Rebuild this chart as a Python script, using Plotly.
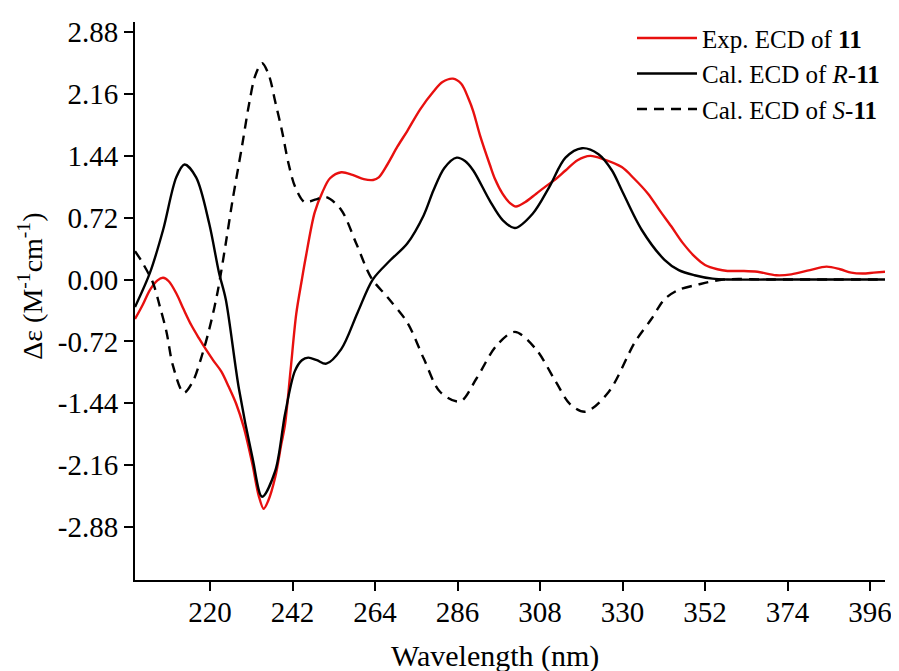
import plotly.graph_objects as go

# Experimental ECD of 11
exp_wl = [200, 202, 204, 206, 207.5, 209, 211, 213, 215, 217, 219, 221, 223, 225, 227, 229, 231.3, 233, 234.3,
          235.5, 237.4, 239, 240, 241.5, 243, 244.5, 245.5, 247.9, 250, 252, 255, 258, 261, 263.5, 265, 267.3,
          270, 272.6, 276, 279.6, 282, 284.8, 287, 289, 290.2, 292, 294.6, 296, 298, 300, 301.6, 304, 307,
          310, 312.2, 314.8, 318, 321.4, 325, 329.8, 333, 336.8, 340, 343, 346, 349.2, 352, 355.3, 358,
          362.4, 366, 371, 375, 380, 384.4, 388, 391, 394, 397, 400]
exp_de = [-0.46, -0.30, -0.12, -0.01, 0.02, -0.02, -0.16, -0.35, -0.53, -0.68, -0.82, -0.95, -1.07, -1.25, -1.45,
          -1.72, -2.15, -2.52, -2.67, -2.58, -2.30, -1.92, -1.69, -1.05, -0.40, 0.00, 0.25, 0.78, 1.02, 1.18,
          1.25, 1.22, 1.17, 1.16, 1.19, 1.34, 1.55, 1.73, 1.98, 2.19, 2.30, 2.34, 2.28, 2.10, 1.96, 1.68,
          1.34, 1.17, 1.00, 0.89, 0.85, 0.90, 1.00, 1.10, 1.17, 1.27, 1.39, 1.44, 1.40, 1.31, 1.18, 1.00,
          0.80, 0.62, 0.43, 0.27, 0.17, 0.12, 0.10, 0.10, 0.09, 0.05, 0.06, 0.11, 0.15, 0.12, 0.08, 0.07,
          0.08, 0.09]

# Calculated ECD of R-11
r_wl = [200, 204, 207.5, 211, 213.2, 216.3, 219.8, 222.4, 224.2, 227.7, 231.3, 233.9, 237.4, 240, 242.6,
        244.5, 246.2, 248.5, 251, 255, 259.4, 263.4, 268.2, 272.6, 277, 279.6, 282.5, 285.8, 288, 290.2,
        294.6, 298.1, 301.3, 306.1, 310.5, 314.8, 319.2, 323.6, 327.2, 329.8, 335.1, 341.2, 345, 349.2,
        354, 358, 370, 385, 400]
r_de = [-0.32, 0.08, 0.58, 1.19, 1.34, 1.19, 0.65, 0.08, -0.23, -1.27, -2.07, -2.53, -2.23, -1.57, -1.07,
        -0.94, -0.91, -0.94, -0.98, -0.81, -0.38, 0.00, 0.23, 0.42, 0.75, 1.04, 1.30, 1.42, 1.38, 1.27,
        0.92, 0.69, 0.60, 0.77, 1.08, 1.42, 1.53, 1.46, 1.27, 1.04, 0.58, 0.23, 0.11, 0.05,
        0.01, 0.00, 0.00, 0.00, 0.00]

# Calculated ECD of S-11
s_wl = [200, 201.8, 204.8, 206.6, 208.4, 210.1, 213, 215.4, 217.6, 219.8, 222, 224.2, 226, 228.6, 230.4,
        232.1, 233.9, 235.7, 237.4, 239.2, 241, 242.7, 245.3, 248, 251, 255, 259, 263, 267.4, 272.6, 277,
        281.4, 286.7, 291.1, 296.4, 301.3, 306.9, 312.2, 316, 320.1, 326.3, 333.3, 337.7, 341.2, 345,
        350, 357, 370, 385, 400]
s_de = [0.33, 0.21, -0.04, -0.31, -0.61, -1.00, -1.32, -1.19, -0.92, -0.58, -0.15, 0.42, 0.92, 1.57, 2.04,
        2.38, 2.52, 2.38, 2.07, 1.73, 1.34, 1.08, 0.90, 0.93, 0.96, 0.81, 0.42, 0.02, -0.21, -0.50, -0.92,
        -1.31, -1.42, -1.15, -0.77, -0.61, -0.81, -1.19, -1.45, -1.54, -1.31, -0.73, -0.46, -0.23, -0.12,
        -0.06, 0.00, 0.00, 0.00, 0.00]

x_ticks = [220, 242, 264, 286, 308, 330, 352, 374, 396]
y_ticks = [-2.88, -2.16, -1.44, -0.72, 0.00, 0.72, 1.44, 2.16, 2.88]
y_tick_text = ["-2.88", "-2.16", "-1.44", "-0.72", "0.00", "0.72", "1.44", "2.16", "2.88"]

FONT = "Liberation Serif"
SMOOTH = 0.9

fig = go.Figure()
fig.add_trace(go.Scatter(x=exp_wl, y=exp_de, mode="lines", name="Exp. ECD of <b>11</b>",
                         line=dict(color="#e8100f", width=2.4, shape="spline", smoothing=SMOOTH)))
fig.add_trace(go.Scatter(x=r_wl, y=r_de, mode="lines", name="Cal. ECD of <i>R</i>-<b>11</b>",
                         line=dict(color="#000000", width=2.4, shape="spline", smoothing=SMOOTH)))
fig.add_trace(go.Scatter(x=s_wl, y=s_de, mode="lines", name="Cal. ECD of <i>S</i>-<b>11</b>",
                         line=dict(color="#000000", width=2.4, dash="10px,7px", shape="spline",
                                   smoothing=SMOOTH)))

# page body adds an 8px offset; figure sized so the plot area lands where the reference has it
fig.update_layout(
    width=891, height=663,
    margin=dict(l=127, r=8, t=7, b=91),
    paper_bgcolor="white", plot_bgcolor="white",
    font=dict(family=FONT, size=26, color="black"),
    legend=dict(x=1, xanchor="right", y=1.012, yanchor="top", bgcolor="rgba(0,0,0,0)",
                font=dict(family=FONT, size=25, color="black"), tracegroupgap=0,
                itemwidth=60),
    showlegend=True,
    annotations=[
        dict(text="Δε (M<sup>-1</sup>cm<sup>-1</sup>)", textangle=-90, xref="paper", yref="paper",
             x=-0.139, y=0.527, xanchor="center", yanchor="middle", showarrow=False,
             font=dict(family=FONT, size=28, color="black")),
        dict(text="Wavelength (nm)", xref="paper", yref="paper", x=0.48, y=-0.136,
             xanchor="center", yanchor="middle", showarrow=False,
             font=dict(family=FONT, size=30, color="black")),
    ],
)
fig.update_xaxes(range=[200, 400], tickvals=x_ticks, ticks="outside", ticklen=9, tickwidth=2,
                 tickcolor="black", showline=True, linecolor="black", linewidth=2, showgrid=False,
                 zeroline=False, tickfont=dict(family=FONT, size=29), ticklabelstandoff=-4)
fig.update_yaxes(range=[-3.5, 3.0], tickvals=y_ticks, ticktext=y_tick_text, ticks="outside", ticklen=9,
                 tickwidth=2, tickcolor="black", showline=True, linecolor="black", linewidth=2,
                 showgrid=False, zeroline=False, tickfont=dict(family=FONT, size=29))

fig.write_html("out.html")
